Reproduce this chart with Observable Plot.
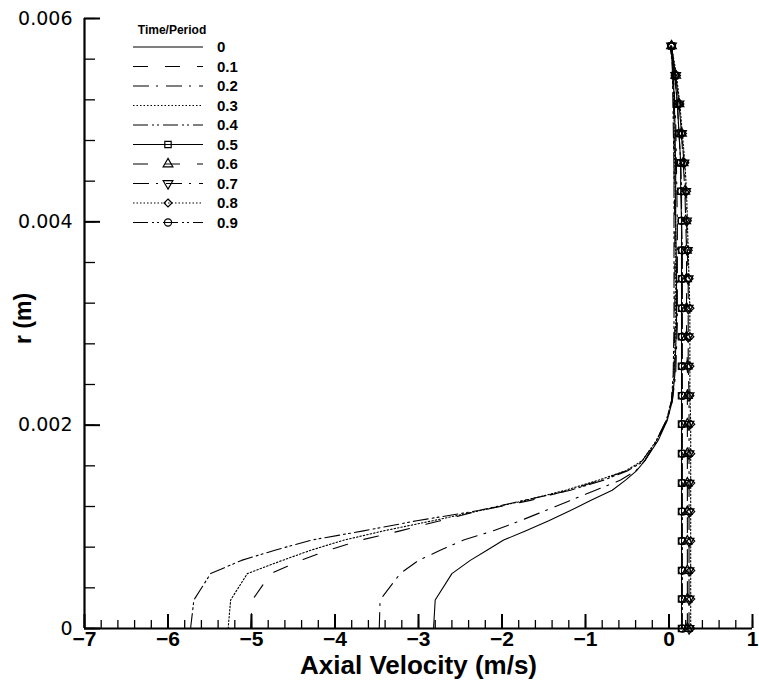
<!DOCTYPE html>
<html>
<head>
<meta charset="utf-8">
<script src="https://cdn.jsdelivr.net/npm/d3@7"></script>
<script src="https://cdn.jsdelivr.net/npm/@observablehq/plot@0.6"></script>
<style>
  body { margin: 0; background: #fff; }
  #wrap { position: relative; width: 759px; height: 692px; }
  #legend { position: absolute; left: 0; top: 0; pointer-events: none; }
</style>
</head>
<body>
<div id="wrap"></div>
<script>
// ---------- data ----------
const seriesNames = ["0", "0.1", "0.2", "0.3", "0.4", "0.5", "0.6", "0.7", "0.8", "0.9"];

// radial positions (m) for the profiles t = 0 ... 0.4
const rCore = [0, 0.00028, 0.00054, 0.00067, 0.00077, 0.00087, 0.00096, 0.00106, 0.00116, 0.00126,
  0.00136, 0.00146, 0.00155, 0.00165, 0.00185, 0.00205, 0.00224, 0.0025, 0.003, 0.0035,
  0.004, 0.0045, 0.005, 0.0055, 0.00573];
const u00 = [-2.82, -2.80, -2.60, -2.38, -2.18, -1.98, -1.72, -1.44, -1.18, -0.94,
  -0.68, -0.52, -0.39, -0.29, -0.13, -0.02, 0.04, 0.07, 0.09, 0.09, 0.08, 0.08, 0.07, 0.05, 0.02];
const u01 = [-5.01, -4.99, -4.77, -4.41, -4.08, -3.69, -3.22, -2.74, -2.26, -1.66,
  -1.20, -0.82, -0.52, -0.32, -0.15, -0.03, 0.03, 0.06, 0.07, 0.07, 0.07, 0.06, 0.06, 0.04, 0.02];
const u02 = [-3.47, -3.46, -3.22, -3.00, -2.74, -2.46, -2.11, -1.78, -1.48, -1.18,
  -0.88, -0.58, -0.40, -0.29, -0.14, -0.02, 0.04, 0.08, 0.10, 0.10, 0.10, 0.09, 0.08, 0.05, 0.02];
const u03 = [-5.28, -5.25, -5.05, -4.63, -4.29, -3.89, -3.42, -2.83, -2.26, -1.72,
  -1.24, -0.84, -0.52, -0.32, -0.15, -0.03, 0.03, 0.06, 0.08, 0.08, 0.08, 0.07, 0.06, 0.05, 0.02];
const u04 = [-5.73, -5.69, -5.49, -5.12, -4.72, -4.28, -3.66, -3.02, -2.28, -1.74,
  -1.18, -0.78, -0.50, -0.29, -0.15, -0.03, 0.03, 0.05, 0.06, 0.06, 0.06, 0.06, 0.05, 0.04, 0.02];

// radial positions (m) for the profiles t = 0.5 ... 0.9 (marked nodes)
const rWall = [0, 0.00029, 0.00057, 0.00086, 0.00115, 0.00143, 0.00172, 0.00201, 0.00229, 0.00258,
  0.00287, 0.00315, 0.00344, 0.00372, 0.00401, 0.0043, 0.00458, 0.00487, 0.00516, 0.00544, 0.00573];
const u05 = [0.15, 0.15, 0.15, 0.15, 0.15, 0.15, 0.15, 0.15, 0.15, 0.15, 0.15, 0.15, 0.15, 0.15, 0.15, 0.14, 0.14, 0.12, 0.10, 0.07, 0.03];
const u06 = [0.22, 0.22, 0.22, 0.22, 0.22, 0.22, 0.22, 0.22, 0.22, 0.22, 0.21, 0.21, 0.21, 0.21, 0.20, 0.19, 0.17, 0.15, 0.12, 0.08, 0.03];
const u07 = [0.24, 0.24, 0.24, 0.24, 0.24, 0.24, 0.24, 0.24, 0.24, 0.23, 0.23, 0.23, 0.23, 0.22, 0.21, 0.20, 0.18, 0.15, 0.12, 0.08, 0.03];
const u08 = [0.26, 0.26, 0.26, 0.26, 0.26, 0.26, 0.26, 0.26, 0.25, 0.25, 0.25, 0.25, 0.24, 0.23, 0.22, 0.21, 0.19, 0.16, 0.13, 0.09, 0.03];
const u09 = [0.16, 0.16, 0.16, 0.16, 0.16, 0.16, 0.16, 0.16, 0.16, 0.16, 0.16, 0.16, 0.16, 0.16, 0.15, 0.15, 0.14, 0.12, 0.10, 0.07, 0.03];

const xMajor = [-7, -6, -5, -4, -3, -2, -1, 0, 1];
const xMinor = d3.range(-70, 11, 2).map(v => v / 10);
const yMajor = [0, 0.002, 0.004, 0.006];
const yMinor = d3.range(0, 61, 4).map(v => v / 10000);

// ---------- styles ----------
const dashStyles = [null, "15,17", "16,7,2,8", "1.5,2", "15,4,2,3,2,4"];
const triangleDown = {
  draw(context, size) {
    const y = -Math.sqrt(size / (Math.sqrt(3) * 3));
    context.moveTo(0, -y * 2);
    context.lineTo(-Math.sqrt(3) * y, y);
    context.lineTo(Math.sqrt(3) * y, y);
    context.closePath();
  }
};
const plotSymbols = ["square", "triangle", triangleDown, "diamond2", "circle"];
const d3Symbols = [d3.symbolSquare, d3.symbolTriangle, triangleDown, d3.symbolDiamond2, d3.symbolCircle];

const coreSeries = [u00, u01, u02, u03, u04];
const wallSeries = [u05, u06, u07, u08, u09];

const marks = [];
// minor & major ticks pointing inward
marks.push(Plot.axisX({ticks: xMinor, tickSize: -8, fill: "none", label: null, strokeWidth: 1.3}));
marks.push(Plot.axisX({ticks: xMajor, tickSize: -14, fill: "none", label: null, strokeWidth: 2}));
marks.push(Plot.axisX({ticks: xMajor, tickSize: 0, tickPadding: 3, label: null, fontSize: 21, fontWeight: "bold"}));
marks.push(Plot.axisY({ticks: yMinor, tickSize: -11, fill: "none", label: null, strokeWidth: 1.3}));
marks.push(Plot.axisY({ticks: yMajor, tickSize: -16, fill: "none", label: null, strokeWidth: 2}));
marks.push(Plot.axisY({ticks: yMajor, tickSize: 0, tickPadding: 12, label: null, fontSize: 19, fontFamily: "DejaVu Sans", tickFormat: d => d === 0 ? "0" : d3.format(".3f")(d)}));
marks.push(Plot.ruleY([0], {strokeWidth: 2.2}));
marks.push(Plot.ruleX([-7], {strokeWidth: 2.2}));

coreSeries.forEach((u, i) => {
  const data = rCore.map((r, k) => ({r, u: u[k]}));
  marks.push(Plot.line(data, {x: "u", y: "r", stroke: "black", strokeWidth: 1.1, strokeDasharray: dashStyles[i]}));
});
wallSeries.forEach((u, i) => {
  const data = rWall.map((r, k) => ({r, u: u[k]}));
  marks.push(Plot.line(data, {x: "u", y: "r", stroke: "black", strokeWidth: 1.1, strokeDasharray: dashStyles[i]}));
  marks.push(Plot.dot(data, {x: "u", y: "r", symbol: plotSymbols[i], r: 3.6, stroke: "black", strokeWidth: 1.2, fill: "none"}));
});

marks.push(Plot.text(["Axial Velocity (m/s)"], {frameAnchor: "bottom", dy: 45, fontSize: 26, fontWeight: "bold", fill: "black"}));
marks.push(Plot.text(["r (m)"], {frameAnchor: "left", dx: -61, dy: -5, rotate: -90, textAnchor: "middle", fontSize: 23, fontWeight: "bold", fill: "black"}));

const chart = Plot.plot({
  width: 759,
  height: 692,
  marginLeft: 84,
  marginRight: 7,
  marginTop: 18,
  marginBottom: 64,
  x: {domain: [-7, 1]},
  y: {domain: [0, 0.006]},
  style: {fontFamily: "'Liberation Sans', Arial, sans-serif", color: "black", background: "white", overflow: "visible"},
  marks
});
document.getElementById("wrap").appendChild(chart);

// ---------- legend (overlay) ----------
const leg = d3.select("#wrap").append("svg")
  .attr("id", "legend").attr("width", 759).attr("height", 692)
  .style("font-family", "'Liberation Sans', Arial, sans-serif");
leg.append("text").attr("x", 172).attr("y", 34).attr("text-anchor", "middle")
  .attr("font-size", 12).attr("font-weight", "bold").text("Time/Period");
seriesNames.forEach((name, i) => {
  const y = 47 + i * 19.5;
  const style = dashStyles[i % 5];
  leg.append("line").attr("x1", 133).attr("x2", 203).attr("y1", y).attr("y2", y)
    .attr("stroke", "black").attr("stroke-width", 1.1)
    .attr("stroke-dasharray", style);
  if (i >= 5) {
    leg.append("path").attr("transform", `translate(168,${y})`)
      .attr("d", d3.symbol().type(d3Symbols[i - 5]).size(Math.PI * 3.6 * 3.6)())
      .attr("fill", "none").attr("stroke", "black").attr("stroke-width", 1.2);
  }
  leg.append("text").attr("x", 217).attr("y", y).attr("dy", "0.36em")
    .attr("font-size", 15).attr("font-weight", "bold").text(name);
});
</script>
</body>
</html>
